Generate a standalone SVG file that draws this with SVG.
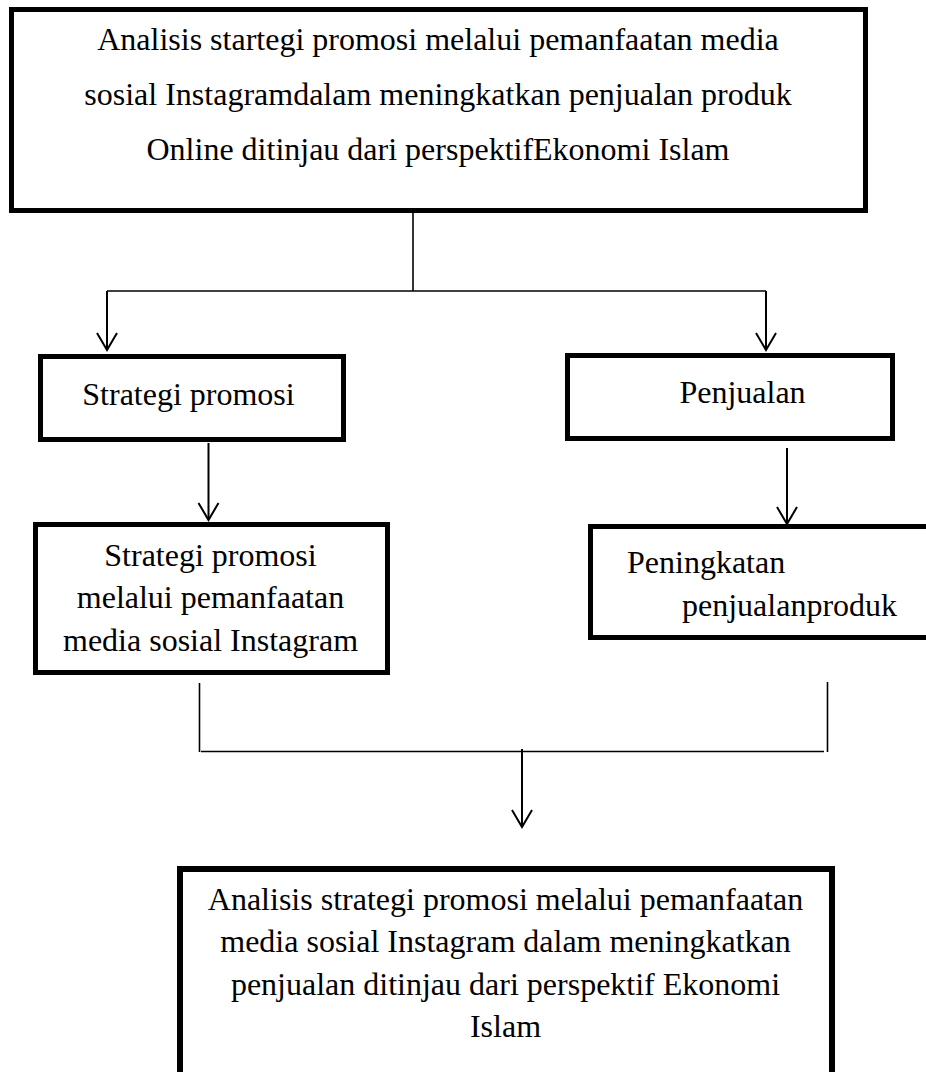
<svg xmlns="http://www.w3.org/2000/svg" width="926" height="1072" viewBox="0 0 926 1072">
  <style>
    .box { fill: #fff; stroke: #000; stroke-width: 5; }
    .t { font-family: "Liberation Serif", "Times New Roman", serif; font-size: 32px; fill: #000; }
    .c { text-anchor: middle; }
    .conn { fill: none; stroke: #000; stroke-width: 1.6; }
    .arrow { fill: none; stroke: #000; stroke-width: 2; }
  </style>
  <defs>
    <marker id="arr" markerUnits="userSpaceOnUse" orient="auto" markerWidth="20" markerHeight="24" refX="0" refY="0" overflow="visible">
      <path d="M-17,-10 L0,0 L-17,10" fill="none" stroke="#000" stroke-width="2"/>
    </marker>
  </defs>
  <rect width="926" height="1072" fill="#fff"/>

  <g id="node-top">
    <rect class="box" x="11.5" y="9.5" width="854" height="201"/>
    <text class="t c" x="438" y="50">Analisis startegi promosi melalui pemanfaatan media</text>
    <text class="t c" x="438" y="105">sosial Instagramdalam meningkatkan penjualan produk</text>
    <text class="t c" x="438" y="160">Online ditinjau dari perspektifEkonomi Islam</text>
  </g>

  <g id="node-strategi">
    <rect class="box" x="40.5" y="356.5" width="303" height="83"/>
    <text class="t c" x="188.5" y="405">Strategi promosi</text>
  </g>

  <g id="node-penjualan">
    <rect class="box" x="567.5" y="355.5" width="325" height="83"/>
    <text class="t c" x="742.5" y="403">Penjualan</text>
  </g>

  <g id="node-strategi-ig">
    <rect class="box" x="35.5" y="524.5" width="352" height="148"/>
    <text class="t c" x="210.5" y="566">Strategi promosi</text>
    <text class="t c" x="210.5" y="608">melalui pemanfaatan</text>
    <text class="t c" x="210.5" y="651">media sosial Instagram</text>
  </g>

  <g id="node-peningkatan">
    <rect class="box" x="590.5" y="526.5" width="400" height="111"/>
    <text class="t" x="627" y="573">Peningkatan</text>
    <text class="t" x="682" y="616">penjualanproduk</text>
  </g>

  <g id="node-bottom">
    <rect class="box" style="stroke-width:6" x="180" y="869" width="652" height="300"/>
    <text class="t c" x="505.5" y="910">Analisis strategi promosi melalui pemanfaatan</text>
    <text class="t c" x="505.5" y="952">media sosial Instagram dalam meningkatkan</text>
    <text class="t c" x="505.5" y="995">penjualan ditinjau dari perspektif Ekonomi</text>
    <text class="t c" x="505.5" y="1037">Islam</text>
  </g>

  <g id="connectors">
    <line class="conn" x1="413" y1="213" x2="413" y2="291"/>
    <line class="conn" x1="107" y1="291" x2="766" y2="291"/>
    <line class="arrow" x1="107" y1="291" x2="107" y2="350" marker-end="url(#arr)"/>
    <line class="arrow" x1="766" y1="291" x2="766" y2="350" marker-end="url(#arr)"/>
    <line class="arrow" x1="208.5" y1="443" x2="208.5" y2="520" marker-end="url(#arr)"/>
    <line class="arrow" x1="787" y1="448" x2="787" y2="524" marker-end="url(#arr)"/>
    <line class="conn" x1="199.5" y1="683" x2="199.5" y2="752"/>
    <line class="conn" x1="827.5" y1="682" x2="827.5" y2="752"/>
    <line class="conn" x1="201" y1="751.5" x2="824" y2="751.5"/>
    <line class="arrow" x1="522" y1="749" x2="522" y2="827" marker-end="url(#arr)"/>
  </g>
</svg>
